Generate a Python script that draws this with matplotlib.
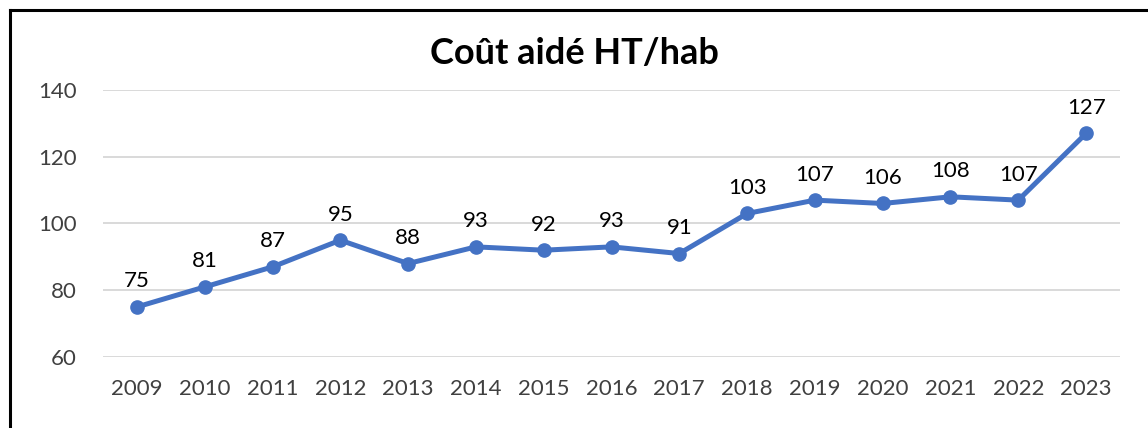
import matplotlib
matplotlib.use("Agg")
import matplotlib.pyplot as plt
from matplotlib.lines import Line2D

years = ["2009", "2010", "2011", "2012", "2013", "2014", "2015", "2016",
         "2017", "2018", "2019", "2020", "2021", "2022", "2023"]
values = [75, 81, 87, 95, 88, 93, 92, 93, 91, 103, 107, 106, 108, 107, 127]
yticks = [60, 80, 100, 120, 140]
title = "Coût aidé HT/hab"

plt.rcParams['font.family'] = ['Lato', 'DejaVu Sans']

W, H = 1148, 428
fig = plt.figure(figsize=(W / 100, H / 100), dpi=100)
ax = fig.add_axes([103 / W, 1 - 357 / H, (1120 - 103) / W, (357 - 90) / H])

x = list(range(len(years)))
line_color = "#4472C4"
ax.plot(x, values, color=line_color, lw=3.6, marker="o", markersize=9.5,
        solid_capstyle="round", zorder=3, clip_on=False)

for xi, v in zip(x, values):
    ax.annotate(str(v), (xi, v), xytext=(0, 14), textcoords="offset points",
                ha="center", va="baseline", fontsize=16, color="#000000")

ax.set_xlim(-0.5, len(years) - 0.5)
ax.set_ylim(60, 140)
ax.set_yticks(yticks)
ax.set_xticks(x)
ax.set_xticklabels(years)
ax.grid(axis="y", color="#D9D9D9", lw=1.4)
ax.set_axisbelow(True)
for s in ax.spines.values():
    s.set_visible(False)
ax.tick_params(axis="both", length=0, labelsize=16, labelcolor="#404040")
ax.tick_params(axis="y", pad=19)
ax.tick_params(axis="x", pad=16)

fig.text(0.5, 1 - 64 / H, title, ha="center", va="baseline",
         fontsize=26, fontweight="bold", color="#000000")

# chart border (left and top visible)
fig.add_artist(Line2D([10 / W, 10 / W], [0, 1 - 10 / H], transform=fig.transFigure,
                      color="black", lw=2.2, solid_capstyle="projecting"))
fig.add_artist(Line2D([10 / W, 1], [1 - 10 / H, 1 - 10 / H], transform=fig.transFigure,
                      color="black", lw=2.2, solid_capstyle="projecting"))

fig.savefig("out.png", dpi=100, facecolor="white")
